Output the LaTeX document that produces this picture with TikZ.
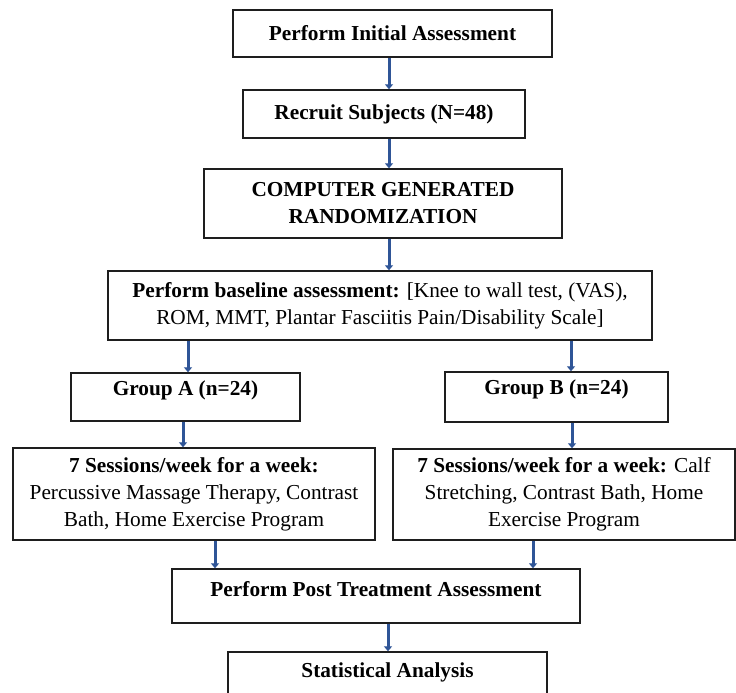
\documentclass[tikz,border=0pt]{standalone}
\usepackage{fontspec}
\setmainfont{Liberation Serif}
\usepackage{tikz}
\usetikzlibrary{arrows.meta}
\definecolor{foreground}{RGB}{30,30,30}
\definecolor{flowblue}{RGB}{47,85,151}
\tikzstyle{block}=[draw=foreground,line width=1.4pt,align=center,inner sep=2pt,font=\fontsize{21.3}{27}\selectfont]
\tikzstyle{dedge}=[draw=flowblue,line width=3pt,-{Triangle[width=8pt,length=5pt]}]

\begin{document}
\begin{tikzpicture}[x=1pt,y=-1pt]
      \useasboundingbox (0,0) rectangle (736,693);

      \node[block,minimum width=319pt,minimum height=47pt] (init) at (392.5,33.5) {\textbf{Perform Initial Assessment}};
      \node[block,minimum width=282pt,minimum height=48pt] (recruit) at (384,114) {\textbf{Recruit Subjects (N=48)}};
      \node[block,minimum width=358pt,minimum height=69pt] (random) at (383,203.5) {\textbf{COMPUTER GENERATED}\\\textbf{RANDOMIZATION}};
      \node[block,minimum width=544pt,minimum height=69pt] (baseline) at (380,305.5) {\textbf{Perform baseline assessment:} [Knee to wall test, (VAS),\\ROM, MMT, Plantar Fasciitis Pain/Disability Scale]};
      \node[block,minimum width=229pt,text height=20pt,text depth=24pt] (grpA) at (185.5,397) {\textbf{Group A (n=24)}};
      \node[block,minimum width=223pt,text height=20pt,text depth=26pt] (grpB) at (556.5,397) {\textbf{Group B (n=24)}};
      \node[block,minimum width=362pt,minimum height=92pt] (sessA) at (194,494) {\textbf{7 Sessions/week for a week:}\\Percussive Massage Therapy, Contrast\\Bath, Home Exercise Program};
      \node[block,minimum width=342pt,minimum height=91pt] (sessB) at (564,494.5) {\textbf{7 Sessions/week for a week:} Calf\\Stretching, Contrast Bath, Home\\Exercise Program};
      \node[block,minimum width=408pt,text height=25pt,text depth=25pt] (post) at (376,596) {\textbf{Perform Post Treatment Assessment}};
      \node[block,minimum width=319pt,text height=23pt,text depth=33pt] (stat) at (387.5,682) {\textbf{Statistical Analysis}};

      \path[dedge] ([xshift=-3.5pt]init.south) -- ([xshift=-3.5pt]init.south |- recruit.north);
      \path[dedge] ([xshift=5pt]recruit.south) -- ([xshift=5pt]recruit.south |- random.north);
      \path[dedge] ([xshift=6pt]random.south) -- ([xshift=6pt]random.south |- baseline.north);

      \path[dedge] ([xshift=2.5pt]grpA.north |- baseline.south) -- ([xshift=2.5pt]grpA.north);
      \path[dedge] ([xshift=14.5pt]grpB.north |- baseline.south) -- ([xshift=14.5pt]grpB.north);

      \path[dedge] ([xshift=-2.5pt]grpA.south) -- ([xshift=-2.5pt]grpA.south |- sessA.north);
      \path[dedge] ([xshift=15.5pt]grpB.south) -- ([xshift=15.5pt]grpB.south |- sessB.north);

      \path[dedge] ([xshift=21pt]sessA.south) -- ([xshift=21pt]sessA.south |- post.north);
      \path[dedge] ([xshift=-31pt]sessB.south) -- ([xshift=-31pt]sessB.south |- post.north);

      \path[dedge] ([xshift=12pt]post.south) -- ([xshift=12pt]post.south |- stat.north);

    \end{tikzpicture}
\end{document}
